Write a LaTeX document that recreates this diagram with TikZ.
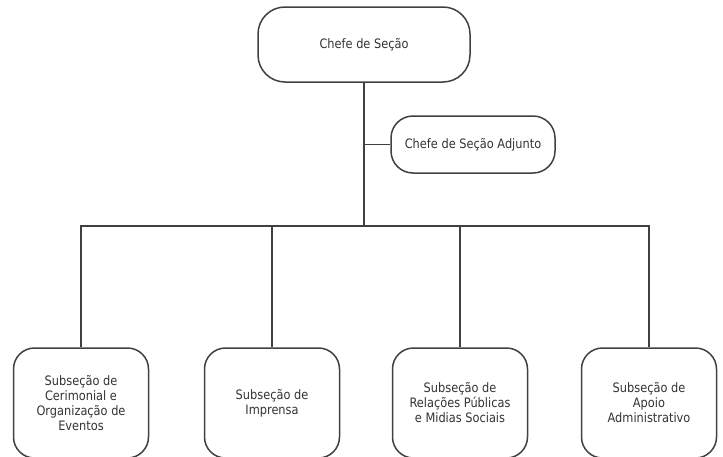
\documentclass[tikz,border=0pt]{standalone}
\usepackage{fontspec}
\setmainfont[FakeStretch=0.875]{DejaVu Sans}
\usepackage{tikz}
\usetikzlibrary{arrows,positioning}
\definecolor{linha}{HTML}{404040}
\definecolor{texto}{HTML}{333333}
\tikzset{
    %Define style for boxes
    chefe/.style={
           rectangle,
           rounded corners=27pt,
           draw=linha, line width=1.5pt,
           minimum width=212pt,
           minimum height=75pt,
           inner sep=0pt,
           font=\fontsize{13}{15}\selectfont,
           text=texto,
           text centered},
    adjunto/.style={
           rectangle,
           rounded corners=22pt,
           draw=linha, line width=1.5pt,
           minimum width=164pt,
           minimum height=57pt,
           inner sep=0pt,
           font=\fontsize{13}{15}\selectfont,
           text=texto,
           text centered},
    subsecao/.style={
           rectangle,
           rounded corners=21pt,
           draw=linha, line width=1.5pt,
           minimum width=135pt,
           minimum height=110pt,
           inner sep=0pt,
           align=center,
           font=\fontsize{13}{15}\selectfont,
           text=texto},
    % Define line style
    lig/.style={
           draw=linha,
           line width=1.5pt}
}
\begin{document}
\begin{tikzpicture}[x=1pt,y=-1pt]
 \useasboundingbox (0,0) rectangle (723,456);

 %nodes
 \node[chefe](chefe) at (364,44.5){Chefe de Seção};
 \node[adjunto](adjunto) at (473,144.5){Chefe de Seção Adjunto};
 \node[subsecao](cerimonial) at (81,403){Subseção de\\Cerimonial e\\Organização de\\Eventos};
 \node[subsecao](imprensa) at (272,403){Subseção de\\Imprensa};
 \node[subsecao](relacoes) at (460,403){Subseção de\\Relações Públicas\\e Midias Sociais};
 \node[subsecao](apoio) at (649,403){Subseção de\\Apoio\\Administrativo};
 \coordinate (barra) at (364,226);
 \coordinate (juncao) at (chefe.south |- adjunto.west);

 %connectors
 \path[lig]
    (chefe) -- (barra)
    (juncao) -- (adjunto)
    (barra) -| (cerimonial)
    (barra) -| (imprensa)
    (barra) -| (relacoes)
    (barra) -| (apoio);
\end{tikzpicture}
\end{document}
